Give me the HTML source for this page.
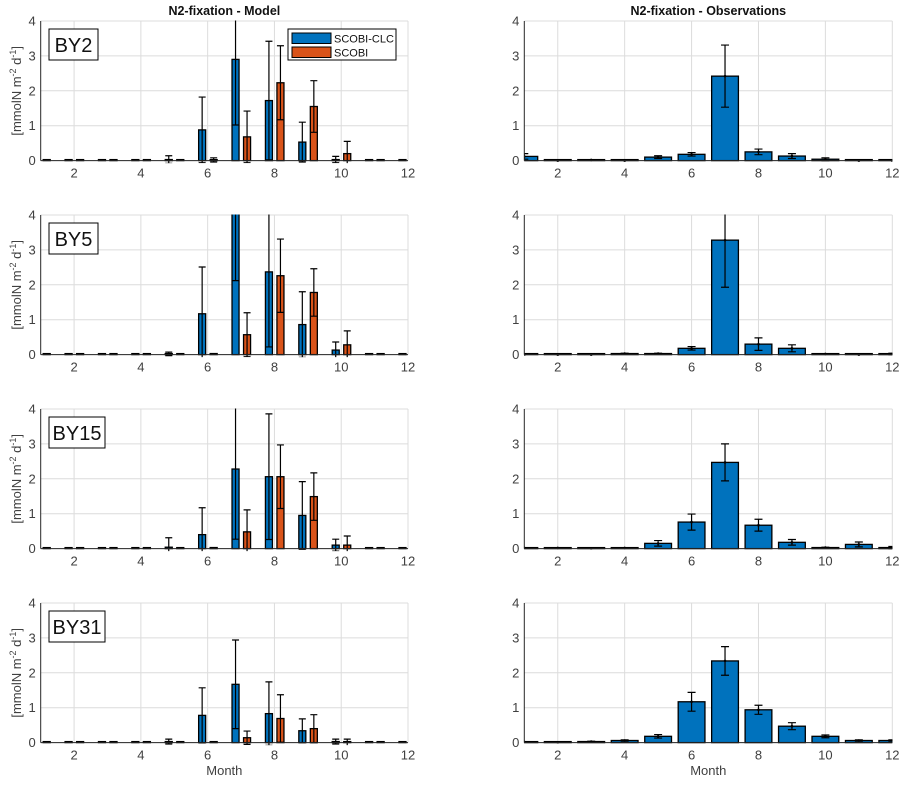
<!DOCTYPE html>
<html><head><meta charset="utf-8">
<style>
body{margin:0;background:#fff;}
svg text{font-family:"Liberation Sans","DejaVu Sans",sans-serif;}
</style></head>
<body>
<svg id="fig" width="908" height="781" xmlns="http://www.w3.org/2000/svg"></svg>
<script>
const months = [1,2,3,4,5,6,7,8,9,10,11,12];
const yTicks = [0,1,2,3,4];
const xTicks = [2,4,6,8,10,12];
const stations = ["BY2","BY5","BY15","BY31"];
// Model SCOBI-CLC (blue) values and errors
const clcBY2  = [0,0,0,0,0.03,0.88,2.9,1.72,0.53,0.03,0,0];
const clcBY2e = [0,0,0,0,0.11,0.94,1.88,1.7,0.57,0.09,0,0];
const clcBY5  = [0,0,0,0,0.02,1.17,4.4,2.37,0.86,0.13,0,0];
const clcBY5e = [0,0,0,0,0.05,1.34,2.28,2.15,0.94,0.23,0,0];
const clcBY15  = [0,0,0,0,0.04,0.4,2.28,2.06,0.95,0.1,0,0];
const clcBY15e = [0,0,0,0,0.27,0.77,2.01,1.8,0.97,0.17,0,0];
const clcBY31  = [0,0,0,0,0.03,0.78,1.67,0.83,0.34,0.03,0,0];
const clcBY31e = [0,0,0,0,0.07,0.79,1.27,0.91,0.34,0.07,0,0];
// Model SCOBI (orange)
const scoBY2  = [0,0,0,0,0,0.02,0.68,2.23,1.55,0.2,0,0];
const scoBY2e = [0,0,0,0,0,0.06,0.74,1.06,0.74,0.35,0,0];
const scoBY5  = [0,0,0,0,0,0.03,0.57,2.26,1.78,0.28,0,0];
const scoBY5e = [0,0,0,0,0,0,0.63,1.05,0.68,0.4,0,0];
const scoBY15  = [0,0,0,0,0,0.03,0.48,2.06,1.49,0.1,0,0];
const scoBY15e = [0,0,0,0,0,0,0.63,0.91,0.68,0.26,0,0];
const scoBY31  = [0,0,0,0,0,0,0.14,0.69,0.4,0,0,0];
const scoBY31e = [0,0,0,0,0,0,0.19,0.68,0.4,0.1,0,0];
// Observations
const obsBY2  = [0.12,0,0.02,0,0.1,0.18,2.42,0.25,0.13,0.04,0,0];
const obsBY2e = [0.08,0,0,0,0.04,0.05,0.89,0.08,0.07,0.04,0,0];
const obsBY5  = [0,0,0,0.03,0.03,0.18,3.28,0.3,0.18,0.02,0,0.02];
const obsBY5e = [0,0,0,0.01,0.01,0.05,1.35,0.18,0.1,0.01,0,0.02];
const obsBY15  = [0.02,0.02,0.01,0.02,0.15,0.76,2.47,0.67,0.18,0.03,0.12,0.03];
const obsBY15e = [0,0,0,0,0.08,0.23,0.53,0.17,0.08,0.01,0.07,0.03];
const obsBY31  = [0.02,0.01,0.03,0.06,0.18,1.17,2.34,0.94,0.47,0.18,0.06,0.06];
const obsBY31e = [0,0,0.01,0.02,0.05,0.27,0.41,0.13,0.1,0.04,0.02,0.02];

const clc=[clcBY2,clcBY5,clcBY15,clcBY31], clcE=[clcBY2e,clcBY5e,clcBY15e,clcBY31e];
const sco=[scoBY2,scoBY5,scoBY15,scoBY31], scoE=[scoBY2e,scoBY5e,scoBY15e,scoBY31e];
const obs=[obsBY2,obsBY5,obsBY15,obsBY31], obsE=[obsBY2e,obsBY5e,obsBY15e,obsBY31e];

const NS="http://www.w3.org/2000/svg";
const svg=document.getElementById('fig');
function mk(tag,attrs,parent){const e=document.createElementNS(NS,tag);for(const k in attrs)e.setAttribute(k,attrs[k]);(parent||svg).appendChild(e);return e;}
const BLUE="#0072bd", ORANGE="#d95319";

function panel(ax,row,col){
  const L=col===0?40.7:524.3, R=col===0?408:892.3, T=21+row*194, B=T+139.6;
  const g=mk('g',{});
  
  
  const xs=v=>L+(v-1)*(R-L)/11, ys=v=>B-v*(B-T)/4;
  const cid='clip'+row+col;
  const cp=mk('clipPath',{id:cid},g); mk('rect',{x:L,y:T-0.5,width:R-L,height:B-T+3},cp);
  for(const t of yTicks){const l=mk('line',{x1:L,x2:R,y1:ys(t),y2:ys(t),stroke:'#dcdcdc','stroke-width':1},g);
    const tx=mk('text',{x:L-5,y:ys(t)+4.5,'text-anchor':'end','font-size':13,fill:'#404040'},g);tx.textContent=t;}
  for(const t of xTicks){const l=mk('line',{x1:xs(t),x2:xs(t),y1:T,y2:B,stroke:'#dcdcdc','stroke-width':1},g);
    const tx=mk('text',{x:xs(t),y:B+17,'text-anchor':'middle','font-size':13,fill:'#404040'},g);tx.textContent=t;}
  const pg=mk('g',{'clip-path':'url(#'+cid+')'},g);
  function bars(vals,errs,off,w,color,name,cap){
    months.forEach((m,i)=>{
      const v=vals[i], cx=xs(m+off), bw=w*(R-L)/11;
      const h=Math.max(ys(0)-ys(v),1);
      const r=mk('rect',{x:cx-bw/2,y:ys(0)-h,width:bw,height:h,fill:color,stroke:'#000','stroke-width':1.3},pg);
      
      
      const e=errs[i];
      if(e>0){
        const lo=v-e, hi=v+e;
        const eg=mk('g',{stroke:'#000','stroke-width':1.2},pg);
        
        
        mk('line',{x1:cx,x2:cx,y1:ys(lo),y2:ys(hi)},eg);
        mk('line',{x1:cx-cap,x2:cx+cap,y1:ys(hi),y2:ys(hi)},eg);
        mk('line',{x1:cx-cap,x2:cx+cap,y1:ys(lo),y2:ys(lo)},eg);
        if(col===1) mk('circle',{cx:cx,cy:ys(v),r:1.3,fill:'#000',stroke:'none'},eg);
      } else if(col===1){ mk('circle',{cx:cx,cy:ys(v),r:1.3,fill:'#000'},pg); }
    });
  }
  if(col===0){
    bars(clc[row],clcE[row],-0.165,0.21,BLUE,'scobi-clc',3.5);
    bars(sco[row],scoE[row],0.18,0.21,ORANGE,'scobi',3.5);
  } else {
    bars(obs[row],obsE[row],0,0.8,BLUE,'observation',4);
  }
  const al=mk('line',{x1:L,x2:L,y1:T,y2:B,stroke:'#262626','stroke-width':1},g);
  const bl=mk('line',{x1:L,x2:R,y1:B,y2:B,stroke:'#262626','stroke-width':1},g);
  if(col===0){
    const yl=mk('text',{transform:`translate(21,${(T+B)/2}) rotate(-90)`,'text-anchor':'middle','font-size':13,fill:'#404040'},g);
    yl.innerHTML='[mmolN m<tspan dy="-5" font-size="9">-2</tspan><tspan dy="5"> d</tspan><tspan dy="-5" font-size="9">-1</tspan><tspan dy="5">]</tspan>';
    
    
    const bw=stations[row].length>3?56:49;
    const bx=mk('rect',{x:49,y:T+8,width:bw,height:31,fill:'#fff',stroke:'#000','stroke-width':1},g);
    
    
    const st=mk('text',{x:49+bw/2,y:T+31,'text-anchor':'middle','font-size':20,fill:'#111'},g);st.textContent=stations[row];
    
    
  }
  if(row===0){
    const t=mk('text',{x:(L+R)/2,y:15,'text-anchor':'middle','font-size':12.5,'font-weight':'bold',fill:'#111'},g);
    t.textContent=col===0?'N2-fixation - Model':'N2-fixation - Observations';
    
    
  }
  if(row===3){
    const t=mk('text',{x:(L+R)/2,y:775,'text-anchor':'middle','font-size':13,fill:'#404040'},g);t.textContent='Month';
    
    
  }
}
for(let r=0;r<4;r++){panel(null,r,0);panel(null,r,1);}
const lg=mk('g',{});


mk('rect',{x:288,y:29,width:108,height:31,fill:'#fff',stroke:'#000','stroke-width':1},lg);
[[BLUE,'SCOBI-CLC',33],[ORANGE,'SCOBI',47]].forEach(([c,lab,y])=>{
  const e=mk('g',{},lg);
  
  
  mk('rect',{x:292,y:y,width:39,height:10.5,fill:c,stroke:'#000','stroke-width':1},e);
  const t=mk('text',{x:334,y:y+9.5,'font-size':11,fill:'#111'},e);t.textContent=lab;
});
</script>
</body></html>
